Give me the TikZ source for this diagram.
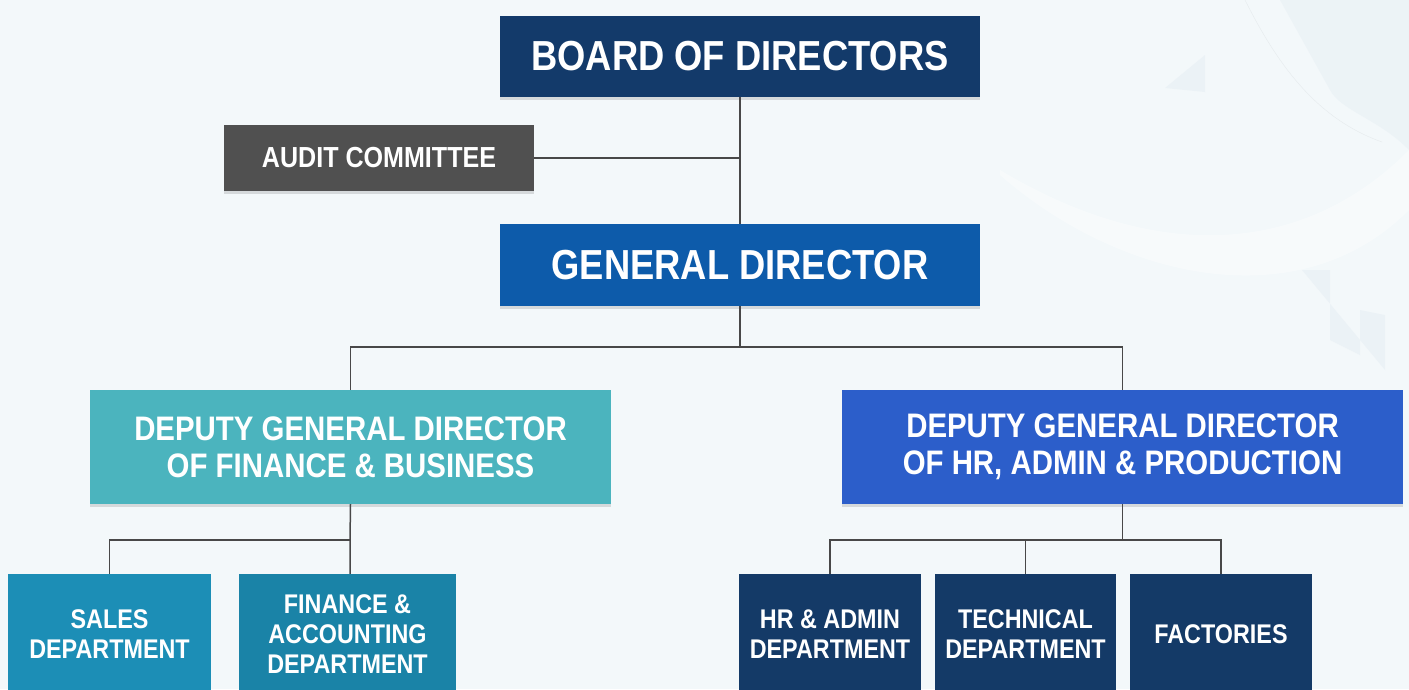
\documentclass[tikz,border=0pt]{standalone}
\usepackage{fontspec}
\setmainfont[FakeStretch=0.865]{Liberation Sans}
\usetikzlibrary{shadows}
\definecolor{bgc}{HTML}{F3F8FA}
\definecolor{navy}{HTML}{133A6A}
\definecolor{gdblue}{HTML}{0D5BAA}
\definecolor{auditgray}{HTML}{505050}
\definecolor{tealc}{HTML}{4BB4BE}
\definecolor{hrblue}{HTML}{2C5ECA}
\definecolor{deptteal}{HTML}{1C8EB6}
\definecolor{deptnavy}{HTML}{143A67}
\definecolor{linec}{HTML}{484848}
\definecolor{wm}{HTML}{E4EDF3}
\tikzset{
  box/.style={rectangle, inner sep=0pt, text=white, align=center,
    font=\bfseries, drop shadow={shadow xshift=0pt, shadow yshift=-3pt, opacity=0.12, fill=black}},
  topbox/.style={box, font=\bfseries\fontsize{42}{46}\selectfont},
  depbox/.style={box, font=\bfseries\fontsize{34}{37}\selectfont},
  deptbox/.style={box, font=\bfseries\fontsize{27}{30}\selectfont},
  conn/.style={draw=linec, line width=1.5pt}
}
\begin{document}
\begin{tikzpicture}[x=1pt,y=-1pt]
\useasboundingbox (0,0) rectangle (1409,689);
\clip (0,0) rectangle (1409,689);
\fill[bgc] (0,0) rectangle (1409,689);
% faint background watermark shapes
\fill[wm, opacity=0.45] (1280,0) -- (1409,0) -- (1409,150) .. controls (1380,120) and (1340,110) .. (1330,90) -- cycle;
\fill[white, opacity=0.35] (1000,170) .. controls (1150,260) and (1300,260) .. (1409,150) -- (1409,210) .. controls (1300,320) and (1120,280) .. (1000,175) -- cycle;
\fill[wm, opacity=0.5] (1165,88) -- (1205,55) -- (1205,92) -- cycle;
\fill[wm, opacity=0.5] (1302,270) -- (1330,270) -- (1330,340) -- (1360,355) -- (1360,310) -- (1385,315) -- (1385,370) -- cycle;
\draw[wm!70!gray, opacity=0.3] (1245,0) .. controls (1280,70) and (1320,120) .. (1382,142);

% nodes
\node[topbox, fill=navy, minimum width=480pt, minimum height=81pt] (board) at (740,56.5) {BOARD OF DIRECTORS};
\node[box, fill=auditgray, minimum width=310pt, minimum height=66pt, font=\bfseries\fontsize{29}{32}\selectfont] (audit) at (379,158) {AUDIT COMMITTEE};
\node[topbox, fill=gdblue, minimum width=480pt, minimum height=82pt] (gd) at (740,265) {GENERAL DIRECTOR};
\node[depbox, fill=tealc, minimum width=521pt, minimum height=114pt] (dfin) at (350.5,447) {DEPUTY GENERAL DIRECTOR\\OF FINANCE \& BUSINESS};
\node[depbox, fill=hrblue, minimum width=561pt, minimum height=114pt] (dhr) at (1122.5,447) {DEPUTY GENERAL DIRECTOR\\OF HR, ADMIN \& PRODUCTION};
\node[deptbox, fill=deptteal, minimum width=203pt, minimum height=120pt] (sales) at (109.5,634) {SALES\\DEPARTMENT};
\node[deptbox, fill=deptteal!92!black, minimum width=217pt, minimum height=120pt] (finacc) at (347.5,634) {FINANCE \&\\ACCOUNTING\\DEPARTMENT};
\node[deptbox, fill=deptnavy, minimum width=182pt, minimum height=120pt] (hradm) at (830,634) {HR \& ADMIN\\DEPARTMENT};
\node[deptbox, fill=deptnavy, minimum width=181pt, minimum height=120pt] (tech) at (1025.5,634) {TECHNICAL\\DEPARTMENT};
\node[deptbox, fill=deptnavy, minimum width=182pt, minimum height=120pt] (fact) at (1221,634) {FACTORIES};

% junctions
\coordinate (j1) at (740,347);
\coordinate (j2) at (350,540);
\coordinate (j3) at (1122.5,540);

% connectors
\draw[conn] (board.south) -- (gd.north);
\draw[conn] (audit.east) -- (audit.east -| board.south);
\draw[conn] (gd.south) -- (j1);
\draw[conn] (dfin.north) -- (dfin.north |- j1) -- (dhr.north |- j1) -- (dhr.north);
\draw[conn] (dfin.south) -- (j2) -- (j2 |- finacc.north);
\draw[conn] (sales.north) -- (sales.north |- j2) -- (j2);
\draw[conn] (dhr.south) -- (j3);
\draw[conn] (hradm.north) -- (hradm.north |- j3) -- (fact.north |- j3) -- (fact.north);
\draw[conn] (tech.north) -- (tech.north |- j3);
\end{tikzpicture}
\end{document}
